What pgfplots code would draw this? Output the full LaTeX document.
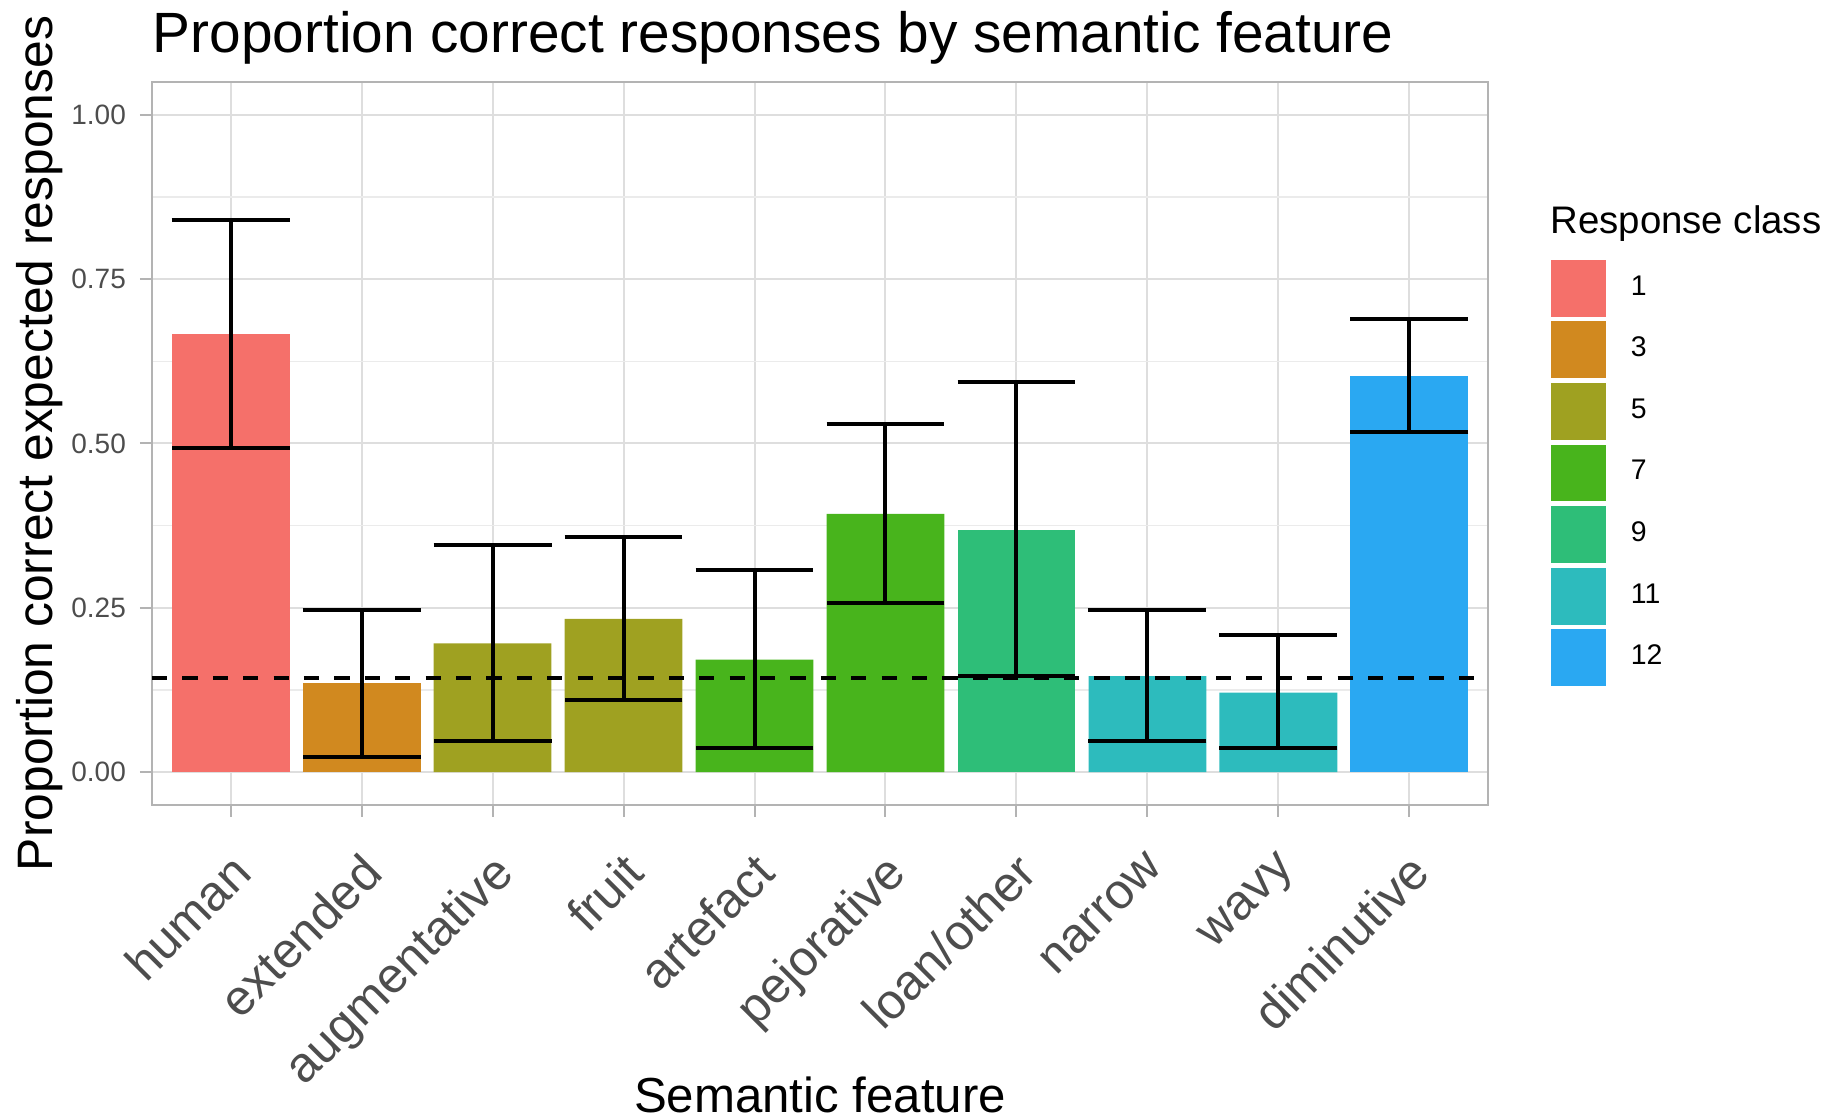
\documentclass[border=0pt]{standalone}
\usepackage{fontspec}
\setmainfont{Liberation Sans}
\usepackage{pgfplots}
\usepackage{pgfplotstable}
\pgfplotsset{compat=1.18}
\definecolor{c1}{HTML}{F5706A}
\definecolor{c3}{HTML}{D1891F}
\definecolor{c5}{HTML}{9FA121}
\definecolor{c7}{HTML}{48B41C}
\definecolor{c9}{HTML}{2EBE78}
\definecolor{c11}{HTML}{2DBBBD}
\definecolor{c12}{HTML}{2AA8F2}
\definecolor{gridmaj}{HTML}{DEDEDE}
\definecolor{gridmin}{HTML}{EBEBEB}
\definecolor{border}{HTML}{B3B3B3}
\definecolor{ticktext}{HTML}{4D4D4D}
\pgfplotstableread{
x y lo hi
1 0.667 0.493 0.840
2 0.135 0.023 0.247
3 0.196 0.048 0.345
4 0.233 0.110 0.358
5 0.171 0.036 0.308
6 0.393 0.258 0.530
7 0.369 0.146 0.593
8 0.146 0.048 0.247
9 0.121 0.036 0.208
10 0.603 0.518 0.690
}\datatable
\begin{document}
\begin{tikzpicture}
\useasboundingbox (-38pt,-78.5pt) rectangle (420.5pt,201.25pt);
\begin{axis}[
  scale only axis,
  width=334pt, height=180.75pt,
  xmin=0.4, xmax=10.6, ymin=-0.05, ymax=1.05,
  xtick={1,...,10},
  xticklabels={human,extended,augmentative,fruit,artefact,pejorative,loan/other,narrow,wavy,diminutive},
  ytick={0,0.25,0.5,0.75,1},
  minor ytick={0.125,0.375,0.625,0.875},
  yticklabel style={/pgf/number format/fixed, /pgf/number format/fixed zerofill, /pgf/number format/precision=2, font=\fontsize{7}{8}\selectfont, text=ticktext},
  /pgf/number format/assume math mode=true,
  grid=both,
  major grid style={draw=gridmaj, line width=0.5pt},
  minor grid style={draw=gridmin, line width=0.3pt},
  axis line style={draw=border, line width=0.5pt},
  tick pos=left,
  tick align=outside,
  major tick length=3pt,
  minor tick length=0pt,
  major tick style={draw=border, line width=0.5pt},
  xticklabel style={font=\fontsize{12.4}{14}\selectfont, text=ticktext, yshift=-6.7pt, xshift=-0.6pt, rotate=45, anchor=north east, inner sep=1pt},
  xlabel={Semantic feature},
  ylabel={Proportion correct expected responses},
  xlabel style={font=\fontsize{12.3}{14}\selectfont, at={(axis description cs:0.5,-0.426)}, anchor=base},
  ylabel style={font=\fontsize{12.45}{14}\selectfont, at={(axis description cs:-0.0744,0.5)}, rotate=0, anchor=base},
  every axis title shift=0pt,
  title={Proportion correct responses by semantic feature},
  title style={font=\fontsize{14.2}{17}\selectfont, at={(axis description cs:0,1.0407)}, anchor=base west, inner sep=0pt},
  legend style={at={(axis description cs:1.0472,0.754)}, anchor=north west, draw=none, fill=none, inner sep=0pt, outer sep=0pt, row sep=1.2pt, column sep=5.2pt, font=\fontsize{7.1}{8.5}\selectfont, nodes={inner sep=1pt}},
  legend cell align=left,
  legend image code/.code={\fill[#1] (0pt,-7.1pt) rectangle (13.75pt,7.1pt);},
]
\addplot[ybar, bar width=0.9, bar shift=0pt, draw=none, fill=c1] coordinates {(1,0.667)};
\addlegendentry{1}
\addplot[ybar, bar width=0.9, bar shift=0pt, draw=none, fill=c3] coordinates {(2,0.135)};
\addlegendentry{3}
\addplot[ybar, bar width=0.9, bar shift=0pt, draw=none, fill=c5] coordinates {(3,0.196) (4,0.233)};
\addlegendentry{5}
\addplot[ybar, bar width=0.9, bar shift=0pt, draw=none, fill=c7] coordinates {(5,0.171) (6,0.393)};
\addlegendentry{7}
\addplot[ybar, bar width=0.9, bar shift=0pt, draw=none, fill=c9] coordinates {(7,0.369)};
\addlegendentry{9}
\addplot[ybar, bar width=0.9, bar shift=0pt, draw=none, fill=c11] coordinates {(8,0.146) (9,0.121)};
\addlegendentry{11}
\addplot[ybar, bar width=0.9, bar shift=0pt, draw=none, fill=c12] coordinates {(10,0.603)};
\addlegendentry{12}
\addplot[black, line width=1pt, dash pattern=on 3.8pt off 3.8pt, forget plot] coordinates {(0.4,0.142857) (10.6,0.142857)};
\addplot[draw=none, mark=none, forget plot,
  error bars/.cd, y dir=both, y explicit, error mark=|,
  error bar style={draw=black, line width=1pt},
  error mark options={draw=black, line width=1pt, mark size=14.74pt}]
  table[x=x, y=y, y error plus expr=\thisrow{hi}-\thisrow{y}, y error minus expr=\thisrow{y}-\thisrow{lo}] {\datatable};
\end{axis}
\node[anchor=base west, font=\fontsize{9.6}{11}\selectfont, inner sep=0pt] at (349.4pt,142.75pt) {Response class};
\end{tikzpicture}
\end{document}
